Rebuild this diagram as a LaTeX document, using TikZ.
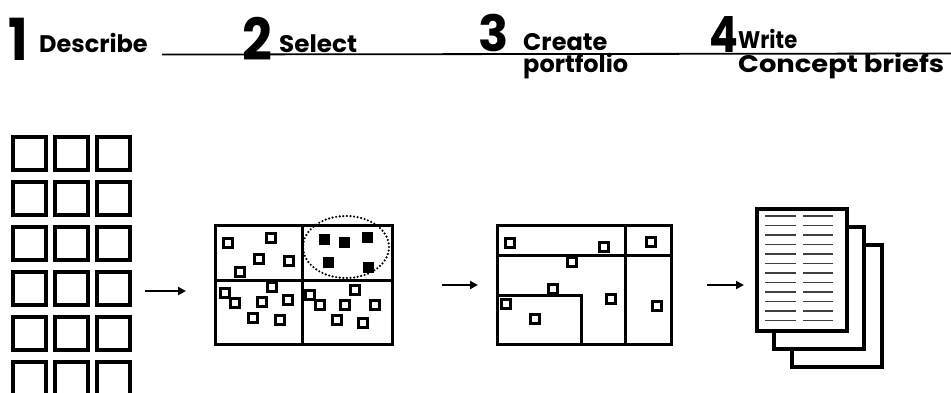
\documentclass[tikz,border=0pt]{standalone}
\usepackage{fontspec}
\setmainfont{Poppins}[BoldFont={Poppins Bold}]
\usetikzlibrary{arrows.meta,shapes.geometric}
\begin{document}
\begin{tikzpicture}[x=1pt,y=-1pt,
  cell/.style={draw,line width=3.6pt},
  frame/.style={draw,line width=3pt},
  dot/.style={draw,line width=2.6pt,minimum size=8.5pt,inner sep=0pt},
  fdot/.style={fill,minimum size=11pt,inner sep=0pt},
  flow/.style={line width=2.6pt,-{Triangle[length=8pt,width=8pt]}},
  big/.style={font=\fontsize{58}{58}\selectfont\bfseries,inner sep=0pt,anchor=base west},
  mid/.style={font=\fontsize{50}{50}\selectfont\bfseries,inner sep=0pt,anchor=base west},
  lbl/.style={font=\fontsize{24}{24}\selectfont\bfseries,inner sep=0pt,anchor=base west},
  page/.style={draw,line width=4pt,fill=white},
  txt/.style={line width=1.8pt,black!75}]
\useasboundingbox (0,0) rectangle (951,392);
% header
\coordinate (hl) at (162,54.5);
\coordinate (hr) at (951,53.5);
\draw[line width=1.8pt] (hl) -- (hr);
\node[big] (n1) at (8,60) {\scalebox{0.9}[1]{1}};
\node[lbl] (t1) at (39,52) {Describe};
\node[big] (n2) at (242,60) {\scalebox{0.9}[1]{2}};
\node[lbl] (t2) at (279,52) {\scalebox{1.03}[1]{Select}};
\node[mid] (n3) at (478,51) {\scalebox{1.0}[1]{3}};
\node[lbl] (t3a) at (523,50) {Create};
\node[lbl] (t3b) at (523,72) {portfolio};
\node[mid] (n4) at (709,52) {\scalebox{0.85}[1]{4}};
\node[lbl] (t4a) at (738,48) {\scalebox{0.88}[1]{Write}};
\node[lbl] (t4b) at (738,72) {\scalebox{1.14}[1]{Concept briefs}};
% step 1 grid
\foreach \x in {13,55,97}{
  \foreach \y in {137,182,227,272,317}{
    \draw[cell] (\x,\y) rectangle ++(33,33);
  }
  \draw[cell] (\x,396) -- (\x,362) -- ++(33,0) -- ++(0,34);
}
\coordinate (a1s) at (145,291);
\coordinate (a1e) at (186,291);
\draw[flow] (a1s) -- (a1e);
% step 2
\node[frame,minimum width=177pt,minimum height=119pt,anchor=north west,inner sep=0pt] (b2) at (214,224) {};
\draw[frame] (302,224) -- (302,343);
\draw[frame] (214,280) -- (392,280);
\foreach \p in {(228,243),(271,238),(259,259),(289,261),(240,272),
  (225,293),(235,303),(262,302),(288,300),(272,287),(253,318),(280,320),
  (310,295),(320,305),(355,290),(345,305),(375,305),(337,320),(363,323)}
  \node[dot] at \p {};
\foreach \p in {(324,239),(344,242),(367,237),(328,262),(368,267)}
  \node[fdot] at \p {};
\node[draw,line width=2.4pt,dash pattern=on 0pt off 3.6pt,line cap=round,ellipse,minimum width=86pt,minimum height=62pt] (sel) at (346,247) {};
\coordinate (a2s) at (442,285);
\coordinate (a2e) at (478,285);
\draw[flow] (a2s) -- (a2e);
% step 3
\node[frame,minimum width=174pt,minimum height=119pt,anchor=north west,inner sep=0pt] (b3) at (496,224) {};
\draw[frame] (625,224) -- (625,343);
\draw[frame] (496,255) -- (670,255);
\draw[frame] (496,295) -- (581,295) -- (581,343);
\foreach \p in {(510,243),(604,247),(651,242),(572,262),(553,289),
  (506,304),(535,319),(611,299),(657,306)}
  \node[dot] at \p {};
\coordinate (a3s) at (707,285);
\coordinate (a3e) at (744,285);
\draw[flow] (a3s) -- (a3e);
% step 4 pages
\node[page,minimum width=90pt,minimum height=122pt,anchor=north west,inner sep=0pt] (p3) at (790,243) {};
\node[page,minimum width=90pt,minimum height=122pt,anchor=north west,inner sep=0pt] (p2) at (772,225) {};
\node[page,minimum width=90pt,minimum height=122pt,anchor=north west,inner sep=0pt] (p1) at (755,207) {};
\foreach \i in {0,...,11}{
  \draw[txt] (765,216+\i*9.5) -- (796,216+\i*9.5);
  \draw[txt] (803,216+\i*9.5) -- (833,216+\i*9.5);
}
\end{tikzpicture}
\end{document}
